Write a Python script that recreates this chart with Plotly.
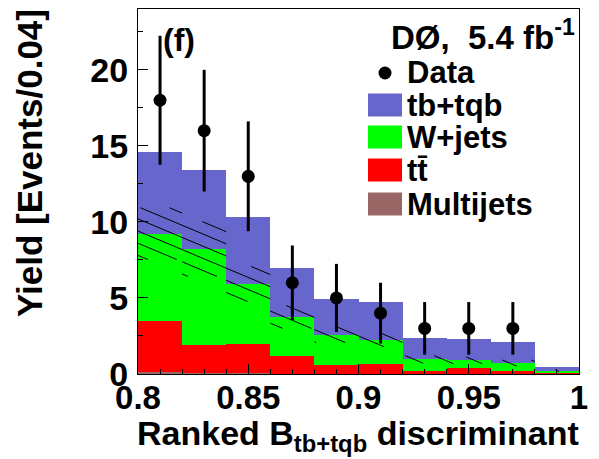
import numpy as np
import plotly.graph_objects as go

# ---- data ----
bin_edges = [0.80, 0.82, 0.84, 0.86, 0.88, 0.90, 0.92, 0.94, 0.96, 0.98, 1.00]
data = [18, 16, 13, 6, 5, 4, 3, 3, 3, 0]
data_err = [4.24, 4.00, 3.61, 2.45, 2.24, 2.00, 1.73, 1.73, 1.73, 0.0]
multijets = [0.10, 0.05, 0.05, 0.03, 0.02, 0.02, 0.01, 0.01, 0.01, 0.01]
ttbar = [3.39, 1.86, 1.92, 1.18, 0.55, 0.64, 0.21, 0.38, 0.19, 0.08]
wjets = [5.74, 6.31, 3.95, 2.54, 2.00, 1.58, 0.74, 0.51, 0.52, 0.11]
signal = [5.40, 5.20, 4.41, 3.20, 2.36, 2.47, 1.41, 1.40, 1.36, 0.24]
bkg_unc = [1.70, 1.80, 1.15, 0.75, 0.50, 0.45, 0.25, 0.22, 0.20, 0.05]

x_ticks = [0.8, 0.85, 0.9, 0.95, 1.0]
x_ticktext = ["0.8", "0.85", "0.9", "0.95", "1"]
y_ticks = [0, 5, 10, 15, 20]

C_SIG = "#6666CC"
C_W = "#00FF00"
C_TT = "#FF0000"
C_MJ = "#996666"

FONT = "Liberation Sans, Arial, sans-serif"

edges = np.array(bin_edges)
centers = (edges[:-1] + edges[1:]) / 2
widths = np.diff(edges)

fig = go.Figure()
for vals, col, name in [(multijets, C_MJ, "Multijets"), (ttbar, C_TT, "tt"),
                        (wjets, C_W, "W+jets"), (signal, C_SIG, "tb+tqb")]:
    fig.add_trace(go.Bar(x=centers, y=vals, width=widths, marker=dict(color=col, line=dict(width=0)),
                         name=name, showlegend=False))

# hatched uncertainty band on total background
bkg = np.array(multijets) + np.array(ttbar) + np.array(wjets)
lo = bkg - np.array(bkg_unc)
hi = bkg + np.array(bkg_unc)
k = 61.0      # slope of hatch lines (data units)
dc = 0.80     # vertical spacing of hatch lines
hx, hy = [], []
cs = np.arange(-1.0, hi.max() + k * 0.2 + 1, dc)
for i in range(len(centers)):
    x0, x1 = edges[i], edges[i + 1]
    for c in cs:
        xa = max(x0, 0.8 + (c - hi[i]) / k)
        xb = min(x1, 0.8 + (c - lo[i]) / k)
        if xb > xa:
            hx += [xa, xb, None]
            hy += [c - k * (xa - 0.8), c - k * (xb - 0.8), None]
fig.add_trace(go.Scatter(x=hx, y=hy, mode="lines", line=dict(color="black", width=1),
                         showlegend=False, hoverinfo="skip"))

# data points
dx = [c for c, d in zip(centers, data) if d > 0]
dy = [d for d in data if d > 0]
de = [e for e, d in zip(data_err, data) if d > 0]
fig.add_trace(go.Scatter(x=dx, y=dy, mode="markers",
                         marker=dict(color="black", size=13),
                         error_y=dict(type="data", array=de, color="black", thickness=3, width=0),
                         showlegend=False))

# pixel -> paper helpers
L, R, T, B = 138, 579, 9, 374
def px(x):
    return (x - L) / (R - L)
def py(y):
    return (B - y) / (B - T)

bold = dict(family=FONT, color="black", weight="bold")

ann = []
ann.append(dict(text="(f)", x=px(161), y=py(40), xanchor="left", yanchor="middle",
                font=dict(size=32, **bold)))
ann.append(dict(text="DØ,  5.4 fb<sup>-1</sup>", x=px(577), y=py(35), xanchor="right", yanchor="middle",
                font=dict(size=33, **bold)))
# legend
rows = [("Data", 73), ("tb+tqb", 105), ("W+jets", 137), ("tt\u0304", 170), ("Multijets", 204)]
for txt, yc in rows:
    ann.append(dict(text=txt, x=px(405), y=py(yc), xanchor="left", yanchor="middle",
                    font=dict(size=31, **bold)))
shapes = []
shapes.append(dict(type="circle", xref="paper", yref="paper", x0=px(385 - 6.5), x1=px(385 + 6.5),
                   y0=py(73 + 6.5), y1=py(73 - 6.5), fillcolor="black", line=dict(width=0)))
for (txt, yc), col in zip(rows[1:], [C_SIG, C_W, C_TT, C_MJ]):
    shapes.append(dict(type="rect", xref="paper", yref="paper", x0=px(368), x1=px(402),
                       y0=py(yc + 11.5), y1=py(yc - 11.5), fillcolor=col, line=dict(width=0)))

# axis titles
ann.append(dict(text="Yield [Events/0.04]", textangle=-90, x=px(29), y=py(7),
                xanchor="center", yanchor="top", font=dict(size=35, **bold)))
ann.append(dict(text="Ranked B<sub>tb+tqb</sub> discriminant", x=px(581), y=py(412),
                xanchor="right", yanchor="top", font=dict(size=34, **bold)))
for a in ann:
    a.update(xref="paper", yref="paper", showarrow=False)

fig.update_layout(
    width=599, height=459, autosize=False,
    margin=dict(l=L, r=599 - R, t=T, b=459 - B),
    paper_bgcolor="white", plot_bgcolor="white",
    barmode="stack", bargap=0,
    annotations=ann, shapes=shapes, showlegend=False,
)
fig.update_xaxes(range=[0.8, 1.0], tickvals=x_ticks, ticktext=x_ticktext,
                 ticks="inside", ticklen=10, tickwidth=1, tickcolor="black",
                 minor=dict(dtick=0.01, tick0=0.8, ticks="inside", ticklen=5, tickcolor="black"),
                 showline=True, linecolor="black", linewidth=1, mirror=True,
                 showgrid=False, zeroline=False, ticklabelstandoff=-6,
                 tickfont=dict(size=33, **bold))
fig.update_yaxes(range=[0, 24], tickvals=y_ticks,
                 ticks="inside", ticklen=10, tickwidth=1, tickcolor="black",
                 minor=dict(dtick=2.5, tick0=0, ticks="inside", ticklen=5, tickcolor="black"),
                 showline=True, linecolor="black", linewidth=1, mirror=True,
                 showgrid=False, zeroline=False, ticklabelstandoff=2,
                 tickfont=dict(size=34, **bold))

fig.write_html("out.html")
